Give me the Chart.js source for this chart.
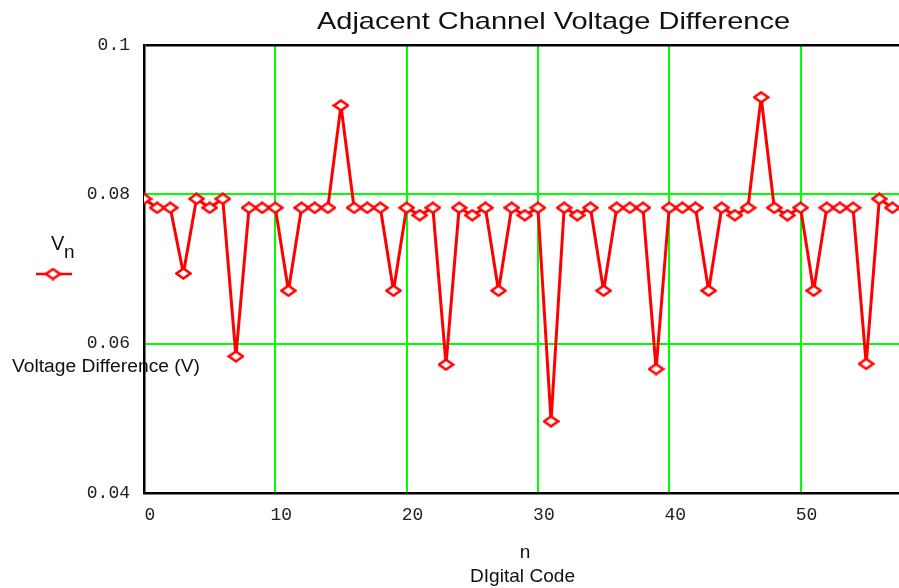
<!DOCTYPE html>
<html>
<head>
<meta charset="utf-8">
<script src="https://cdn.jsdelivr.net/npm/chart.js@4"></script>
<style>
  html, body { margin: 0; padding: 0; background: #fff; overflow: hidden; }
  #wrap { width: 899px; height: 588px; }
</style>
</head>
<body>
<div id="wrap"><canvas id="chart" width="899" height="588"></canvas></div>
<script>
// n = digital code, Vn = voltage difference between adjacent channels (V)
const codes = [0, 1, 2, 3, 4, 5, 6, 7, 8, 9, 10, 11, 12, 13, 14, 15, 16, 17, 18, 19,
  20, 21, 22, 23, 24, 25, 26, 27, 28, 29, 30, 31, 32, 33, 34, 35, 36, 37, 38, 39,
  40, 41, 42, 43, 44, 45, 46, 47, 48, 49, 50, 51, 52, 53, 54, 55, 56, 57]
const voltages = [
  0.0794, 0.0782, 0.0782, 0.0694, 0.0794, 0.0782, 0.0794, 0.0583, 0.0782, 0.0782,
  0.0782, 0.0671, 0.0782, 0.0782, 0.0782, 0.0919, 0.0782, 0.0782, 0.0782, 0.0671,
  0.0782, 0.0772, 0.0782, 0.0572, 0.0782, 0.0772, 0.0782, 0.0671, 0.0782, 0.0772,
  0.0782, 0.0496, 0.0782, 0.0772, 0.0782, 0.0671, 0.0782, 0.0782, 0.0782, 0.0566,
  0.0782, 0.0782, 0.0782, 0.0671, 0.0782, 0.0772, 0.0782, 0.0930, 0.0782, 0.0772,
  0.0782, 0.0671, 0.0782, 0.0782, 0.0782, 0.0573, 0.0794, 0.0782]
const xTicks = [0, 10, 20, 30, 40, 50]
const yTicks = [0.04, 0.06, 0.08, 0.1]

const RED = '#ff0000', GREEN = '#00ff00'
const MONO = '"Liberation Mono", "Courier New", monospace'
const SANS = '"Liberation Sans", Arial, sans-serif'

// hollow, slightly flattened diamond marker (Mathcad style)
const makeDiamond = (w, h) => {
    const c = document.createElement('canvas')
    c.width = w; c.height = h
    const g = c.getContext('2d')
    g.beginPath()
    g.moveTo(w / 2, 1.5); g.lineTo(w - 1.5, h / 2); g.lineTo(w / 2, h - 1.5); g.lineTo(1.5, h / 2)
    g.closePath()
    g.fillStyle = '#fff'; g.fill()
    g.lineWidth = 2.5; g.strokeStyle = RED; g.stroke()
    return c
}
const diamond = makeDiamond(17, 13)

// draw text stretched horizontally to a target width
const fitText = (ctx, text, x, y, font, width) => {
    ctx.save()
    ctx.font = font
    ctx.textAlign = 'left'
    ctx.textBaseline = 'alphabetic'
    const k = width / ctx.measureText(text).width
    ctx.translate(x, y)
    ctx.scale(k, 1)
    ctx.fillText(text, 0, 0)
    ctx.restore()
}

const labelsPlugin = {
    id: 'mathcadLabels',
    afterDraw: chart => {
        const ctx = chart.ctx
        ctx.save()
        ctx.fillStyle = '#111'
        fitText(ctx, 'Adjacent Channel Voltage Difference', 317, 29, '24px ' + SANS, 473)
        fitText(ctx, 'Voltage Difference (V)', 12, 372, '18px ' + SANS, 188)
        fitText(ctx, 'DIgital Code', 470, 582, '19px ' + SANS, 105)
        ctx.font = '19px ' + SANS
        ctx.textAlign = 'center'
        ctx.fillText('n', 525, 558)
        // legend
        ctx.textAlign = 'left'
        ctx.font = '20px ' + SANS
        ctx.fillText('V', 51, 250)
        ctx.font = '19px ' + SANS
        ctx.fillText('n', 64, 258)
        ctx.strokeStyle = RED
        ctx.lineWidth = 2.5
        ctx.beginPath()
        ctx.moveTo(36, 274); ctx.lineTo(72, 274)
        ctx.stroke()
        ctx.drawImage(diamond, 53 - 8.5, 274 - 6.5)
        ctx.restore()
    }
}

const points = codes.map((n, i) => ({ x: n, y: voltages[i] }))

new Chart(document.getElementById('chart'), {
    type: 'line',
    data: {
        datasets: [{
            label: 'Vn',
            data: points,
            borderColor: RED,
            borderWidth: 3,
            borderJoinStyle: 'round',
            pointStyle: diamond,
            pointRadius: 7,
            tension: 0,
            clip: 0
        }]
    },
    options: {
        responsive: false,
        animation: false,
        events: [],
        layout: { autoPadding: false, padding: { top: 45, right: 0, left: 0, bottom: 0 } },
        plugins: {
            legend: { display: false },
            title: { display: false },
            tooltip: { enabled: false }
        },
        scales: {
            x: {
                type: 'linear',
                min: 0,
                max: 57.5,
                afterBuildTicks: s => { s.ticks = xTicks.map(v => ({ value: v })) },
                afterFit: s => { s.height = 95; s.paddingLeft = 0; s.paddingRight = 0 },
                grid: { color: GREEN, lineWidth: 2, drawTicks: false },
                border: { color: '#000', width: 2.5 },
                ticks: {
                    font: { family: MONO, size: 18 },
                    color: '#222',
                    padding: 11,
                    labelOffset: 6,
                    maxRotation: 0,
                    callback: v => String(v)
                }
            },
            y: {
                min: 0.04,
                max: 0.1,
                afterBuildTicks: s => { s.ticks = yTicks.map(v => ({ value: v })) },
                afterFit: s => { s.width = 144 },
                grid: {
                    color: c => (c.tick && c.tick.value > 0.099) ? '#000' : GREEN,
                    lineWidth: c => (c.tick && c.tick.value > 0.099) ? 2.5 : 2,
                    drawTicks: false
                },
                border: { color: '#000', width: 2.5 },
                ticks: {
                    font: { family: MONO, size: 18 },
                    color: '#222',
                    padding: 14,
                    callback: v => (+v.toFixed(2)).toString()
                }
            }
        }
    },
    plugins: [labelsPlugin]
})
</script>
</body>
</html>
